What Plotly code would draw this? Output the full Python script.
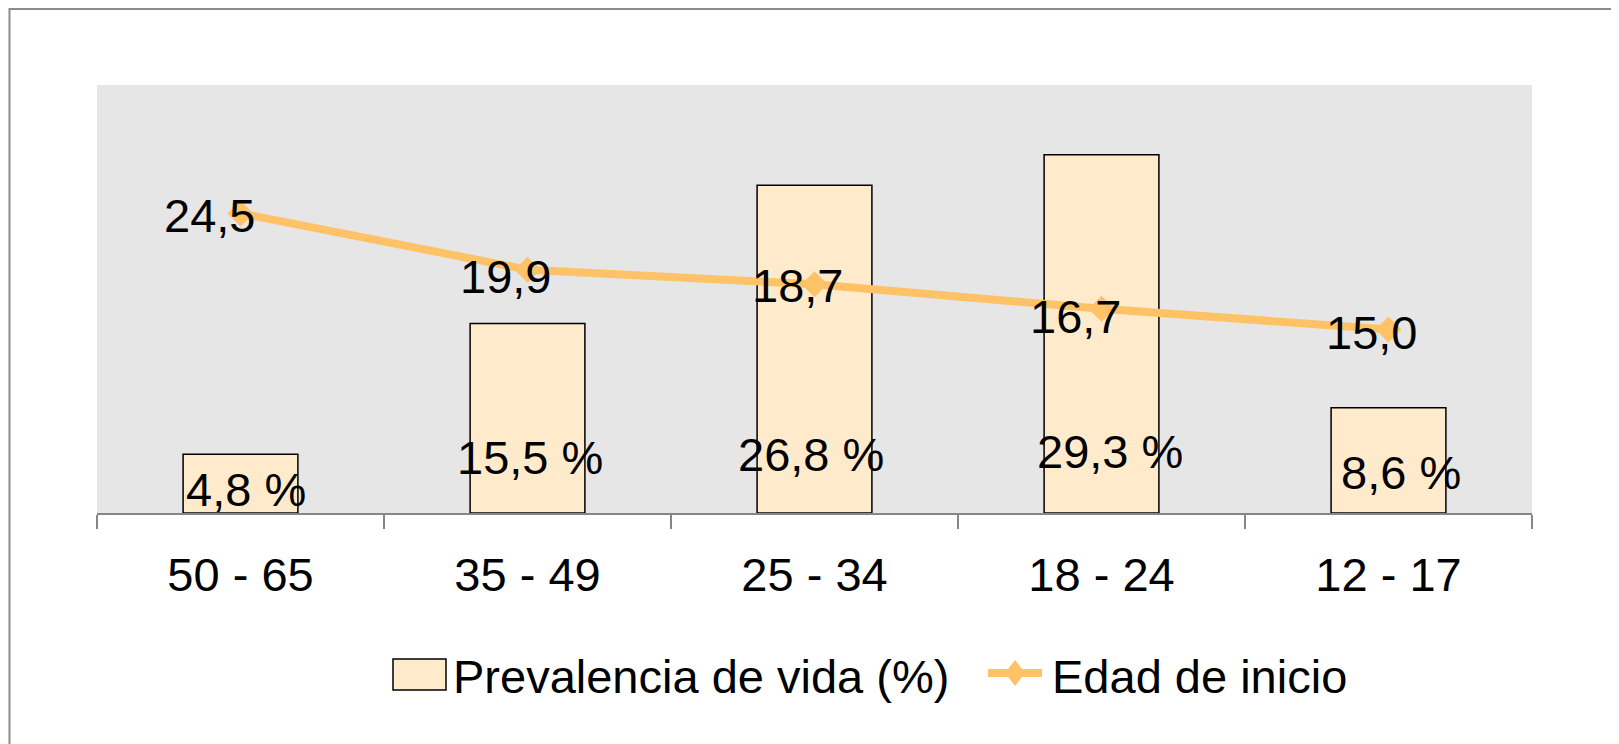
import plotly.graph_objects as go

# ---- data ----
categories = ["50 - 65", "35 - 49", "25 - 34", "18 - 24", "12 - 17"]
prevalencia = [4.8, 15.5, 26.8, 29.3, 8.6]
edad_inicio = [24.5, 19.9, 18.7, 16.7, 15.0]
prev_labels = ["4,8 %", "15,5 %", "26,8 %", "29,3 %", "8,6 %"]
edad_labels = ["24,5", "19,9", "18,7", "16,7", "15,0"]
series_names = ["Prevalencia de vida (%)", "Edad de inicio"]

# ---- layout geometry (pixels, screen coords; page body has an 8px margin) ----
W, H = 1619, 744
OFF = 8
L, R, T, B = 97 - OFF, 87 + OFF, 85 - OFF, 231 + OFF
PW, PH = W - L - R, H - T - B

def px_x(x):
    return (x - OFF - L) / PW

def px_y(y):
    return (H - B - (y - OFF)) / PH

FONT = "Liberation Sans, Arial, sans-serif"
FS = 47
BAR_FILL = "#FFEBCC"
LINE_COL = "#FFC266"

# label offsets (pixels)
bar_lbl_dx = [5, 2, -4, 8, 12]
bar_lbl_dy = [24, 56, 59, 62, 41]
line_lbl_dx = [-31, -22, -17, -26, -17]
line_lbl_dy = [-2, -7, -1, -8, -3]

fig = go.Figure()
fig.add_trace(go.Bar(
    x=categories, y=prevalencia, name=series_names[0],
    marker=dict(color=BAR_FILL, line=dict(color="black", width=1.5)),
    width=0.4, showlegend=False, hoverinfo="skip",
))
fig.add_trace(go.Scatter(
    x=categories, y=edad_inicio, name=series_names[1], mode="lines+markers",
    line=dict(color=LINE_COL, width=8),
    marker=dict(symbol="diamond", size=20, color=LINE_COL),
    showlegend=False, hoverinfo="skip",
))

annotations = []
for c, t, dx, dy in zip(categories, prev_labels, bar_lbl_dx, bar_lbl_dy):
    annotations.append(dict(x=c, y=0, xref="x", yref="y", text=t, showarrow=False,
                            xshift=dx, yshift=dy, yanchor="middle",
                            font=dict(family=FONT, size=FS, color="black")))
for c, v, t, dx, dy in zip(categories, edad_inicio, edad_labels, line_lbl_dx, line_lbl_dy):
    annotations.append(dict(x=c, y=v, xref="x", yref="y", text=t, showarrow=False,
                            xshift=dx, yshift=dy, yanchor="middle",
                            font=dict(family=FONT, size=FS, color="black")))

# manual legend
annotations.append(dict(x=px_x(451), y=px_y(676), xref="paper", yref="paper",
                        text=series_names[0], showarrow=False, xanchor="left", yanchor="middle",
                        font=dict(family=FONT, size=FS, color="black")))
annotations.append(dict(x=px_x(1050), y=px_y(676), xref="paper", yref="paper",
                        text=series_names[1], showarrow=False, xanchor="left", yanchor="middle",
                        font=dict(family=FONT, size=FS, color="black")))

shapes = [
    # outer chart frame
    dict(type="rect", xref="paper", yref="paper",
         x0=px_x(9.5), x1=px_x(1700), y0=px_y(9), y1=px_y(800),
         line=dict(color="#8C8C8C", width=2), fillcolor="rgba(0,0,0,0)", layer="below"),
    # legend box
    dict(type="rect", xref="paper", yref="paper",
         x0=px_x(393), x1=px_x(446), y0=px_y(690), y1=px_y(659),
         line=dict(color="black", width=1.5), fillcolor=BAR_FILL),
    # legend line
    dict(type="line", xref="paper", yref="paper",
         x0=px_x(988), x1=px_x(1042), y0=px_y(673), y1=px_y(673),
         line=dict(color=LINE_COL, width=8)),
    dict(type="path", xref="paper", yref="paper",
         path="M {a},{b} L {c},{d} L {a},{e} L {f},{d} Z".format(
             a=px_x(1015), b=px_y(660), c=px_x(1025), d=px_y(673), e=px_y(686), f=px_x(1005)),
         line=dict(color=LINE_COL, width=0), fillcolor=LINE_COL),
]

fig.update_layout(
    width=W, height=H,
    margin=dict(l=L, r=R, t=T, b=B, autoexpand=False),
    paper_bgcolor="white", plot_bgcolor="#E6E6E6",
    font=dict(family=FONT, size=FS, color="black"),
    showlegend=False,
    annotations=annotations, shapes=shapes,
    bargap=0.6,
    xaxis=dict(type="category", showline=True, linecolor="#868686", linewidth=2,
               ticks="outside", ticklen=14, tickwidth=2, tickcolor="#868686",
               tickson="boundaries", showgrid=False, zeroline=False,
               ticklabelstandoff=20,
               tickfont=dict(family=FONT, size=FS, color="black")),
    yaxis=dict(range=[0, 35], visible=False, showgrid=False, zeroline=False),
)

fig.write_html("out.html")
